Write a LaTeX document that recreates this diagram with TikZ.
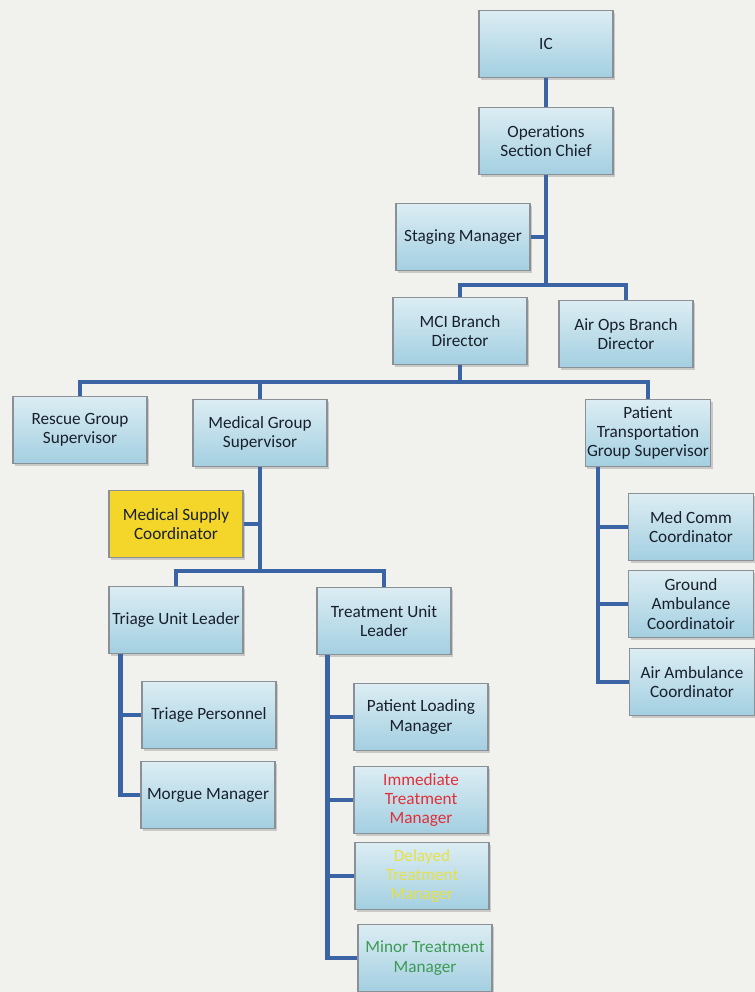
\documentclass[tikz,border=0pt]{standalone}
\usepackage{fontspec}
\setmainfont{Carlito}
\usepackage{tikz}
\usepackage{xcolor}
\usetikzlibrary{shapes, positioning, shadows}

\definecolor{bgcol}{HTML}{F1F1EE}
\definecolor{linkcol}{HTML}{3B64A5}
\definecolor{boxtop}{HTML}{DCEDF3}
\definecolor{boxbot}{HTML}{A3CFE1}
\definecolor{boxedge}{HTML}{8A9095}
\definecolor{supply}{HTML}{F4D52A}
\definecolor{redtxt}{HTML}{E0303A}
\definecolor{yeltxt}{HTML}{E6E04A}
\definecolor{grntxt}{HTML}{3E9A55}
\definecolor{darktxt}{HTML}{18202C}

\tikzset{
    box/.style={rectangle, draw=boxedge, line width=0.6pt, top color=boxtop, bottom color=boxbot,
        minimum width=2.68cm, minimum height=1.34cm, align=center, text=darktxt, inner sep=1pt,
        font=\fontsize{9.8}{10.9}\selectfont, drop shadow={shadow xshift=1.2pt, shadow yshift=-1.2pt, opacity=0.35}},
    narrow/.style={minimum width=2.5cm},
    link/.style={draw=linkcol, line width=2.3pt}
}

\begin{document}
\begin{tikzpicture}[x=0.02cm, y=-0.02cm]
        \fill[bgcol] (0, 0) rectangle (755, 992);
        \useasboundingbox (0, 0) rectangle (755, 992);

        \node[box] (ic) at (546, 44) {IC};
        \node[box] (ops) at (546, 141) {Operations\\Section Chief};
        \node[box] (staging) at (463, 237) {Staging Manager};
        \node[box] (mci) at (460, 331) {MCI Branch\\Director};
        \node[box] (airops) at (626, 334) {Air Ops Branch\\Director};

        \node[box] (rescue) at (80, 430) {Rescue Group\\Supervisor};
        \node[box] (medgrp) at (260, 433) {Medical Group\\Supervisor};
        \node[box, narrow] (ptgs) at (648, 433) {Patient\\Transportation\\Group Supervisor};

        \node[box, top color=supply, bottom color=supply] (medsup) at (176, 524) {Medical Supply\\Coordinator};
        \node[box] (tul) at (176, 620) {Triage Unit Leader};
        \node[box] (trul) at (384, 621) {Treatment Unit\\Leader};

        \node[box] (tp) at (209, 715) {Triage Personnel};
        \node[box] (mm) at (208, 795) {Morgue Manager};

        \node[box] (plm) at (421, 717) {Patient Loading\\Manager};
        \node[box, text=redtxt] (itm) at (421, 800) {Immediate\\Treatment\\Manager};
        \node[box, text=yeltxt] (dtm) at (422, 876) {Delayed\\Treatment\\Manager};
        \node[box, text=grntxt] (mtm) at (425, 958) {Minor Treatment\\Manager};

        \node[box, narrow] (mcc) at (691, 527) {Med Comm\\Coordinator};
        \node[box, narrow] (gac) at (691, 604) {Ground\\Ambulance\\Coordinatoir};
        \node[box, narrow] (aac) at (692, 682) {Air Ambulance\\Coordinator};

        \coordinate (j1) at (546, 285);
        \coordinate (j2) at (460, 382);
        \coordinate (j3) at (260, 571);

        \draw[link] (ic) -- (ops);
        \draw[link] (ops.south) -- (j1);
        \draw[link] (staging.east) -- (staging.east -| ops.south);
        \draw[link] (mci.north) |- (j1) -| (airops.north);

        \draw[link] (mci.south) -- (j2);
        \draw[link] (rescue.north) |- (j2) -| (ptgs.north);
        \draw[link] (medgrp.north) -- (medgrp.north |- j2);

        \draw[link] (medgrp.south) -- (j3);
        \draw[link] (medsup.east) -- (medsup.east -| medgrp.south);
        \draw[link] (tul.north) |- (j3) -| (trul.north);

        \draw[link] (tul.south west) ++(12, 0) |- (tp.west);
        \draw[link] (tul.south west) ++(12, 0) |- (mm.west);

        \draw[link] (trul.south west) ++(11, 0) |- (plm.west);
        \draw[link] (trul.south west) ++(11, 0) |- (itm.west);
        \draw[link] (trul.south west) ++(11, 0) |- (dtm.west);
        \draw[link] (trul.south west) ++(11, 0) |- (mtm.west);

        \draw[link] (ptgs.south west) ++(13, 0) |- (mcc.west);
        \draw[link] (ptgs.south west) ++(13, 0) |- (gac.west);
        \draw[link] (ptgs.south west) ++(13, 0) |- (aac.west);
    \end{tikzpicture}
\end{document}
